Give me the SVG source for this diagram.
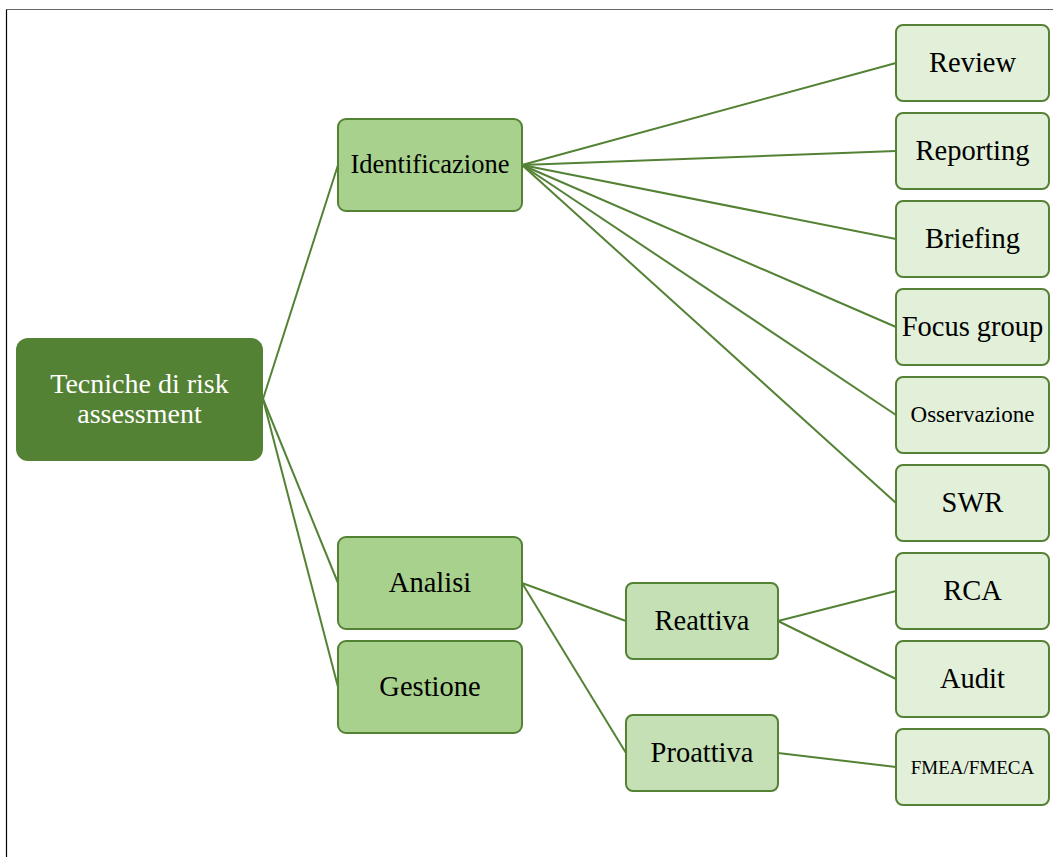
<svg xmlns="http://www.w3.org/2000/svg" width="1053" height="857" viewBox="0 0 1053 857">
  <style>
    .lbl { font-family: "Liberation Serif", "Times New Roman", serif; text-anchor: middle; dominant-baseline: central; fill: #000; font-size: 28.5px; }
    .root rect { fill: #548235; }
    .root text { fill: #fff; font-size: 28px; }
    .l1 rect { fill: #a9d18e; stroke: #548235; stroke-width: 2; }
    .l2 rect { fill: #c5e0b4; stroke: #548235; stroke-width: 2; }
    .leaf rect { fill: #e2efd9; stroke: #548235; stroke-width: 2; }
    #connectors line { stroke: #548235; stroke-width: 2; fill: none; }
  </style>
  <rect width="1053" height="857" fill="#fff"/>
  <!-- page frame -->
  <line x1="6.5" y1="9.5" x2="1053" y2="9.5" stroke="#666" stroke-width="1"/>
  <line x1="6.5" y1="9.5" x2="6.5" y2="857" stroke="#000" stroke-width="1.2"/>

  <g id="connectors">
    <line x1="263" y1="399" x2="338" y2="165"/>
    <line x1="263" y1="399" x2="338" y2="583"/>
    <line x1="263" y1="399" x2="338" y2="687"/>
    <line x1="522" y1="165" x2="896" y2="63"/>
    <line x1="522" y1="165" x2="896" y2="151"/>
    <line x1="522" y1="165" x2="896" y2="239"/>
    <line x1="522" y1="165" x2="896" y2="327"/>
    <line x1="522" y1="165" x2="896" y2="415"/>
    <line x1="522" y1="165" x2="896" y2="503"/>
    <line x1="522" y1="583" x2="626" y2="621"/>
    <line x1="522" y1="583" x2="626" y2="753"/>
    <line x1="778" y1="621" x2="896" y2="591"/>
    <line x1="778" y1="621" x2="896" y2="679"/>
    <line x1="778" y1="753" x2="896" y2="767"/>
  </g>

  <g id="root" class="root">
    <rect x="16" y="338" width="247" height="123" rx="12"/>
    <text class="lbl" x="139.5" y="383">Tecniche di risk</text>
    <text class="lbl" x="139.5" y="413">assessment</text>
  </g>

  <g id="identificazione" class="l1">
    <rect x="338" y="119" width="184" height="92" rx="8"/>
    <text class="lbl" x="430" y="164" style="font-size:26.5px">Identificazione</text>
  </g>
  <g id="analisi" class="l1">
    <rect x="338" y="537" width="184" height="92" rx="8"/>
    <text class="lbl" x="430" y="582">Analisi</text>
  </g>
  <g id="gestione" class="l1">
    <rect x="338" y="641" width="184" height="92" rx="8"/>
    <text class="lbl" x="430" y="686">Gestione</text>
  </g>

  <g id="reattiva" class="l2">
    <rect x="626" y="583" width="152" height="76" rx="7"/>
    <text class="lbl" x="702" y="620">Reattiva</text>
  </g>
  <g id="proattiva" class="l2">
    <rect x="626" y="715" width="152" height="76" rx="7"/>
    <text class="lbl" x="702" y="752">Proattiva</text>
  </g>

  <g id="review" class="leaf">
    <rect x="896" y="25" width="153" height="76" rx="7"/>
    <text class="lbl" x="972.5" y="62">Review</text>
  </g>
  <g id="reporting" class="leaf">
    <rect x="896" y="113" width="153" height="76" rx="7"/>
    <text class="lbl" x="972.5" y="150">Reporting</text>
  </g>
  <g id="briefing" class="leaf">
    <rect x="896" y="201" width="153" height="76" rx="7"/>
    <text class="lbl" x="972.5" y="238">Briefing</text>
  </g>
  <g id="focus-group" class="leaf">
    <rect x="896" y="289" width="153" height="76" rx="7"/>
    <text class="lbl" x="972.5" y="326">Focus group</text>
  </g>
  <g id="osservazione" class="leaf">
    <rect x="896" y="377" width="153" height="76" rx="7"/>
    <text class="lbl" x="972.5" y="414" style="font-size:23px">Osservazione</text>
  </g>
  <g id="swr" class="leaf">
    <rect x="896" y="465" width="153" height="76" rx="7"/>
    <text class="lbl" x="972.5" y="502">SWR</text>
  </g>
  <g id="rca" class="leaf">
    <rect x="896" y="553" width="153" height="76" rx="7"/>
    <text class="lbl" x="972.5" y="590">RCA</text>
  </g>
  <g id="audit" class="leaf">
    <rect x="896" y="641" width="153" height="76" rx="7"/>
    <text class="lbl" x="972.5" y="678">Audit</text>
  </g>
  <g id="fmea" class="leaf">
    <rect x="896" y="729" width="153" height="76" rx="7"/>
    <text class="lbl" x="972.5" y="767" style="font-size:19px">FMEA/FMECA</text>
  </g>
</svg>
